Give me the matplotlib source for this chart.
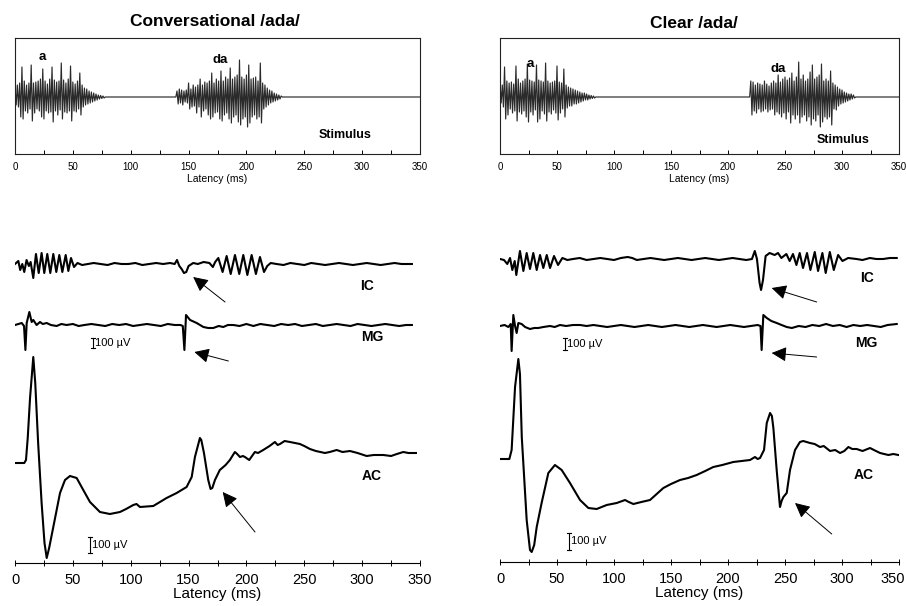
import numpy as np
import matplotlib
matplotlib.use("Agg")
import matplotlib.pyplot as plt
from matplotlib.ticker import MultipleLocator
import matplotlib.transforms as mtransforms

plt.rcParams['font.family'] = ['Liberation Sans', 'DejaVu Sans']

# ---------------- DATA ----------------
# Stimulus waveforms (amplitude, a.u.), one sample per ms
conv_a_start = 0
conv_a = [10, -8, 12, -10, 14, -20, 30, -22, 16, -14,
          12, -16, 14, -12, 32, -24, 14, -16, 15, -12,
          16, -14, 18, -20, 28, -22, 16, -14, 13, -16,
          18, -15, 30, -25, 17, -14, 15, -18, 16, -13,
          34, -22, 17, -15, 14, -16, 18, -14, 31, -24,
          15, -14, 13, -15, 16, -12, 24, -18, 12, -10,
          9, -8, 8, -7, 6, -6, 5, -5, 4, -4,
          3, -3, 2, -2, 1.5, -1.5, 1, -1, 0]
conv_da_start = 139
conv_da = [0,
           6, -7, 8, -6, 7, -8, 6, -5, 7, -6,
           14, -12, 8, -10, 12, -9, 10, -16, 12, -10,
           18, -20, 12, -14, 15, -12, 14, -18, 16, -22,
           24, -20, 14, -16, 18, -15, 16, -22, 26, -24,
           16, -18, 20, -16, 18, -22, 29, -26, 18, -20,
           20, -18, 22, -25, 37, -28, 20, -22, 18, -20,
           22, -30, 32, -26, 18, -20, 19, -18, 20, -22,
           16, -20, 34, -26, 14, -12, 12, -10, 9, -8,
           7, -6, 6, -5, 4, -4, 3, -3, 2, -2,
           1, 0]
clear_a_start = 0
clear_a = [14, -6, 12, -10, 30, -22, 16, -18, 14, -12,
           15, -16, 13, -14, 31, -24, 18, -15, 14, -17,
           16, -14, 18, -20, 33, -25, 17, -15, 16, -18,
           15, -13, 32, -25, 17, -22, 16, -14, 15, -17,
           34, -24, 16, -15, 14, -17, 15, -13, 16, -16,
           31, -23, 15, -16, 14, -12, 28, -20, 12, -11,
           10, -9, 9, -9, 8, -7, 7, -7, 6, -6,
           5, -5, 4, -4, 4, -3, 3, -3, 2, -2,
           1.5, -1.5, 1, -1, 0]
clear_da_start = 219
clear_da = [0,
            16, -18, 15, -14, 12, -16, 14, -12, 13, -15,
            12, -14, 16, -12, 13, -15, 11, -13, 14, -12,
            16, -18, 14, -15, 22, -17, 15, -20, 18, -16,
            20, -22, 17, -15, 19, -26, 24, -18, 16, -22,
            20, -18, 35, -26, 18, -20, 22, -18, 16, -24,
            18, -20, 25, -28, 32, -22, 18, -24, 20, -18,
            22, -30, 33, -25, 16, -20, 18, -22, 16, -20,
            26, -28, 14, -12, 12, -13, 10, -9, 8, -7,
            7, -6, 5, -5, 4, -4, 3, -3, 3, -2,
            2, -1, 0]

# Evoked responses (latency ms, amplitude a.u.)
ic_conv = [(0, 0), (2.9, 3), (4.5, -6), (6.3, 0), (8, -8), (10, 4), (12, -2), (13.5, 2),
           (15.8, -14), (18.1, 10), (20.5, -9), (23.0, 11), (25.3, -9), (27.9, 10), (30.5, -9),
           (33.1, 10), (35.7, -8), (38.3, 9), (40.9, -8), (43.8, 9), (46.1, -7), (48.4, 6),
           (51, -3), (54, 1), (58, -1), (63, 0), (68, 1), (74, 0), (80, -1), (86, 1), (92, 0),
           (98, 0), (104, 1), (110, -1), (116, 0), (122, 1), (128, 0), (134, 1), (138, 0),
           (140, 4), (142, -2), (144, -5), (146, -9), (148, -8), (150, -2), (154, 1), (158, 0),
           (163, 2), (168, 1), (171, -3), (173, 2), (175.7, 6), (179.4, -8), (182.9, 8),
           (186.4, -10), (190.1, 9), (193.8, -10), (197.3, 9), (200.8, -11), (204.5, 9),
           (208.2, -10), (211.7, 7), (215.2, -8), (218, -2), (221, 1), (226, 0), (232, -1),
           (238, 1), (244, 0), (250, -1), (256, 1), (262, 0), (268, -1), (274, 0), (280, 1),
           (286, 0), (292, -1), (298, 0), (304, 1), (310, 0), (316, -1), (322, 0), (328, 1),
           (334, 0), (340, 0), (343, 0)]
mg_conv = [(0, 0), (3, 1), (5.8, 2), (7.8, -1), (9, -25), (10.1, 2), (12.4, 13), (14.4, 3),
           (15.8, 5), (18.7, 0), (21.6, 3), (24, 1), (27.4, 2), (31, 0), (36, -1), (40, 1),
           (44.6, 0), (50, 1), (55, -1), (60, 0), (66, 1), (72, 0), (78, -1), (84, 1), (90, 0),
           (96, 1), (102, -1), (108, 0), (114, 1), (120, 0), (126, -1), (132, 1), (138, 0),
           (143, 0), (145, -1), (146.4, -25), (147.8, 10), (151.3, 5), (157, 2), (162.8, -2),
           (167, -3), (171.4, -3), (176, -1), (180, -2), (184, 0), (188.7, 0), (194, -1),
           (200, 1), (206, -1), (212, 1), (218, 0), (224, -1), (230, 1), (236, 0), (242, 1),
           (248, -1), (254, 0), (260, 1), (266, -1), (272, 0), (278, 1), (284, 0), (290, -1),
           (296, 1), (302, 0), (308, -1), (314, 0), (320, 1), (326, 0), (332, -1), (338, 0),
           (343, 0)]
ac_conv = [(0, 0), (8, 0), (9.5, 3), (11, 25), (13, 65), (15.8, 106), (17.5, 80), (20, 20),
           (23, -40), (25.5, -80), (27.4, -95), (29.5, -85), (33.1, -64), (38.9, -30),
           (43.2, -17), (47.5, -13), (53.3, -15), (59, -27), (64.8, -39), (73.4, -49),
           (82, -51), (90.7, -49), (96, -46), (102.2, -42), (105, -41), (108, -44),
           (119.5, -43), (131, -35), (139.7, -30), (148.3, -24), (152.7, -14), (155.5, 6),
           (159.8, 25), (161, 23), (163.3, 10), (167, -17), (169, -26), (170.5, -25),
           (172.8, -17), (177, -7), (182, -2), (185.7, 3), (190, 11), (192, 9), (194.4, 6),
           (197, 7), (198.7, 6), (202.4, 3), (207.3, 11), (210, 10), (214.5, 13), (220, 17),
           (224.6, 21), (227, 18), (229, 19), (233, 22), (237.6, 21), (242, 20), (246.2, 19),
           (250, 17), (254.9, 14), (260, 12), (267.8, 10), (272, 11), (278, 13), (283, 11),
           (289.5, 12), (296, 10), (303.9, 7), (310, 8), (318.3, 8), (325, 7), (330, 9),
           (335.6, 11), (340, 10), (346.5, 10)]

ic_clear = [(0, 0), (3.5, -1), (6.4, -5), (8.8, 1), (10.8, -11), (12.9, -2), (14.3, -16),
            (17.5, 8), (20.5, -12), (23.4, 6), (26.3, -10), (29.2, 6), (32.2, -11), (35.1, 4),
            (38, -9), (41, 4), (43.9, -9), (47.4, 3), (50.9, -6), (54.7, 1), (59.1, -1),
            (64, 0), (70, 1), (76, -1), (82, 0), (88, 1), (94, 0), (100, -1), (106, 1),
            (112, 2), (116, 1), (120, -1), (126, 0), (132, 1), (138, 0), (144, -1), (150, 0),
            (156, 1), (162, 0), (168, -1), (174, 0), (180, 1), (186, 0), (192, -1), (198, 0),
            (204, 1), (210, 0), (216, -1), (221, 0), (223.5, 8), (225.4, 0), (227.7, -24),
            (229, -31), (230.7, -21), (233, 3), (236.5, 6), (240.9, 4), (243.9, 6), (246.8, 1),
            (251.2, 5), (254.1, -2), (257, 5), (260, -6), (262.9, 6), (265.8, -9), (269.3, 6),
            (272.3, -11), (276.1, 7), (279, -12), (282.8, 6), (285.7, -14), (289.3, 7),
            (292.8, -11), (296.6, 4), (300.4, -2), (305.4, 1), (312.7, 0), (318, -1),
            (324.4, 1), (330, 0), (336.1, 0), (342, 1), (348, 1)]
mg_clear = [(0, 0), (4, 1), (7.3, -1), (9.4, 2), (10.2, -25), (11.7, 11), (13.2, 0),
            (14.6, -7), (16.1, 3), (19, 2), (22, -1), (26.3, -3), (30, -2), (33.6, -2), (38, -1),
            (43.9, 0), (48, -1), (52.6, 1), (58, 0), (64, 1), (70.2, 1), (76, 0), (82, 1),
            (88, 0), (94, -1), (100, 0), (106, 1), (112, 0), (118, -1), (124, 0), (130, 1),
            (136, 0), (142, -1), (148, 0), (154, 1), (160, 0), (166, -1), (172, 0), (178, 1),
            (184, 0), (190, -1), (196, 0), (202, 1), (208, 0), (214, -1), (220, 0), (226, 1),
            (228.5, 0), (229.5, -24), (231, 11), (234, 8), (238, 5), (242.7, 3), (247, 1),
            (251.5, -1), (256, -2), (262, 0), (268, -1), (274, 1), (280, 0), (286, 2), (292, 0),
            (298, 1), (304, -1), (310, 1), (316, 0), (322, 1), (328, 0), (334, -1), (340, 1),
            (348, 2)]
ac_clear = [(0, 0), (8.2, 0), (10.2, 9), (13.2, 72), (16.1, 100), (17.5, 85), (19.1, 22),
            (23.4, -61), (26.3, -91), (27.8, -93), (30, -86), (32.2, -68), (36.5, -44),
            (42.4, -14), (48.2, -6), (54.1, -11), (61.4, -24), (70.2, -41), (77.5, -49),
            (84.8, -50), (93.6, -46), (102.4, -44), (109.7, -41), (113, -43), (117, -45),
            (124, -43), (131.6, -41), (143.3, -29), (150, -25), (157.9, -21), (165, -19),
            (172.5, -16), (180, -12), (187.1, -8), (195, -6), (204.6, -3), (212, -2),
            (219.3, -1), (223.7, 2), (226, 0), (228.1, 1), (231.6, 9), (234, 36), (236.9, 46),
            (238.5, 43), (239.8, 31), (242.7, -11), (245.6, -48), (247, -42), (248.6, -38),
            (251.5, -34), (254.4, -11), (258.8, 9), (263.1, 17), (266, 18), (271.9, 16),
            (276, 15), (280.7, 12), (284, 13), (289.5, 8), (294, 9), (298.3, 6), (302, 8),
            (305.6, 12), (309, 10), (312.9, 10), (318, 8), (324.6, 11), (328, 9), (333.4, 6),
            (337, 5), (340.7, 4), (345, 5), (349.5, 4)]

xticks = [0, 50, 100, 150, 200, 250, 300, 350]

# ---------------- FIGURE ----------------
W, H = 906, 606
fig = plt.figure(figsize=(W / 100, H / 100), dpi=100)


def rect(x0, y0, x1, y1):
    return [x0 / W, 1 - y1 / H, (x1 - x0) / W, (y1 - y0) / H]


def stim_panel(r, a_start, a_vals, da_start, da_vals, a_pos, da_pos, st_pos):
    ax = fig.add_axes(r)
    ta = np.arange(len(a_vals)) + a_start
    td = np.arange(len(da_vals)) + da_start
    t = np.concatenate([ta, td, [350]])
    v = np.concatenate([a_vals, da_vals, [0]])
    ax.plot(t, v, color='#2a2a2a', lw=0.85)
    ax.set_xlim(0, 350)
    ax.set_ylim(-57, 59)
    ax.set_xticks(xticks)
    ax.xaxis.set_minor_locator(MultipleLocator(25))
    ax.tick_params(axis='x', which='both', direction='in', length=3, width=0.7,
                   labelsize=7, pad=6)
    ax.set_yticks([])
    for s in ax.spines.values():
        s.set_linewidth(0.8)
        s.set_color('#222222')
    ax.set_xlabel('Latency (ms)', fontsize=7.5, labelpad=1)
    ax.text(*a_pos, 'a', fontsize=9.5, fontweight='bold', ha='center', va='center')
    ax.text(*da_pos, 'da', fontsize=9.5, fontweight='bold', ha='center', va='center')
    ax.text(*st_pos, 'Stimulus', fontsize=9, fontweight='bold', ha='center', va='center')
    return ax


stim_panel(rect(15, 38, 420, 154), conv_a_start, conv_a, conv_da_start, conv_da,
           (24, 40), (177, 37), (285, -38))
stim_panel(rect(500, 38, 899, 154), clear_a_start, clear_a, clear_da_start, clear_da,
           (27, 33), (244, 28), (301, -43))

fig.text(215 / W, 1 - 22 / H, 'Conversational /ada/', fontsize=12.5, fontweight='bold',
         ha='center', va='center')
fig.text(694 / W, 1 - 24 / H, 'Clear /ada/', fontsize=12.5, fontweight='bold',
         ha='center', va='center')


def resp_panel(r, ytop, traces, offsets, labels, label_pos, arrows, bars):
    ax = fig.add_axes(r)
    for tr, off in zip(traces, offsets):
        tt = [p[0] for p in tr]
        vv = [p[1] + off for p in tr]
        ax.plot(tt, vv, color='black', lw=1.5, solid_joinstyle='round')
    ax.set_xlim(0, 350)
    ax.set_ylim(0, ytop)
    for s in ['top', 'right', 'left']:
        ax.spines[s].set_visible(False)
    ax.spines['bottom'].set_linewidth(0.8)
    ax.set_yticks([])
    ax.set_xticks(xticks)
    ax.xaxis.set_minor_locator(MultipleLocator(25))
    ax.tick_params(axis='x', which='both', direction='inout', length=4, width=0.7,
                   labelsize=10.5, pad=5)
    ax.set_xlabel('Latency (ms)', fontsize=11, labelpad=0)
    for lab, pos in zip(labels, label_pos):
        ax.text(*pos, lab, fontsize=10, fontweight='bold', ha='center', va='center')
    for head, tail in arrows:
        ax.annotate('', xy=head, xytext=tail,
                    arrowprops=dict(arrowstyle='-|>,head_length=0.9,head_width=0.45',
                                    lw=0.7, color='black', mutation_scale=10,
                                    shrinkA=0, shrinkB=0))
    for x, y0, y1 in bars:
        ax.plot([x, x], [y0, y1], color='black', lw=0.8)
        ax.plot([x - 1.5, x + 1.5], [y0, y0], color='black', lw=0.8)
        ax.plot([x - 1.5, x + 1.5], [y1, y1], color='black', lw=0.8)
        ax.text(x + 1.8, (y0 + y1) / 2, '100 µV', fontsize=8, ha='left', va='center')
    return ax


resp_panel(rect(15, 240, 420, 563), 323,
           [ic_conv, mg_conv, ac_conv], [299, 238, 100],
           ['IC', 'MG', 'AC'], [(304, 277), (309, 226), (308.5, 87)],
           [((154, 286), (181.5, 261)), ((155, 211), (184.4, 202)),
            ((179.5, 71), (207.4, 31))],
           [(67.4, 215, 225), (64.8, 10, 26)])
ax_r = resp_panel(rect(500, 240, 899, 562), 322,
                  [ic_clear, mg_clear, ac_clear], [303, 236, 103],
                  ['IC', 'MG', 'AC'], [(321.7, 284), (321.7, 219), (318.7, 87)],
                  [((238.3, 274), (277.8, 260)), ((238.3, 209), (277.8, 205)),
                   ((258.8, 59), (291, 28))],
                  [(57, 212, 224), (60.5, 12, 29)])

# keep the last tick label of the right response panel inside the canvas
fig.canvas.draw()
last = ax_r.get_xticklabels()[-1]
last.set_transform(last.get_transform() +
                   mtransforms.ScaledTranslation(-6 / 100, 0, fig.dpi_scale_trans))

fig.savefig('out.png', dpi=100)
